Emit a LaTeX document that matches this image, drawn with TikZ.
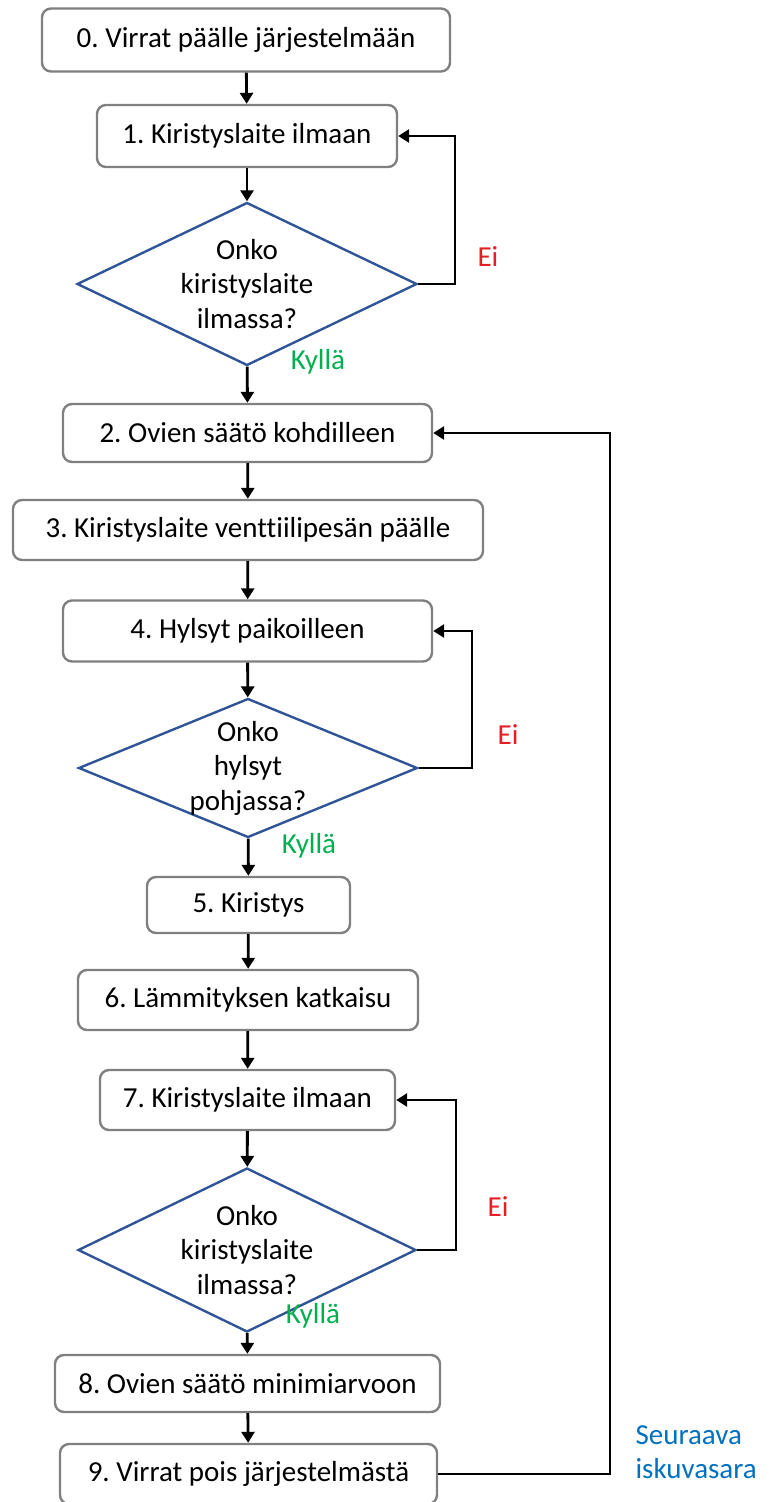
\documentclass[tikz,border=0pt]{standalone}
\usepackage{fontspec}
\setmainfont{Carlito}[Ligatures={NoCommon}]
\usetikzlibrary{shapes.geometric,arrows.meta}
\definecolor{boxgray}{RGB}{128,128,128}
\definecolor{decblue}{RGB}{47,85,151}
\definecolor{nored}{RGB}{228,30,36}
\definecolor{yesgreen}{RGB}{0,176,80}
\definecolor{nextblue}{RGB}{0,112,192}
\frenchspacing
\begin{document}
\begin{tikzpicture}[x=1pt,y=-1pt,
  every node/.style={font=\fontsize{29}{34.5}\selectfont},
  stepbox/.style={draw=boxgray,line width=2.4pt,rounded corners=9pt,fill=white,
    inner sep=0pt},
  decision/.style={draw=decblue,line width=2.4pt,diamond,inner sep=0pt},
  question/.style={label={[align=center]center:#1}},
  flow/.style={line width=2.8pt,-{Triangle[length=11pt,width=13pt]}},
  nolabel/.style={text=nored},
  yeslabel/.style={text=yesgreen}]
\useasboundingbox (0,0) rectangle (771,1502);

% process steps
\node[stepbox,minimum width=408pt,minimum height=63pt] (s0) at (246,40) {0. Virrat päälle järjestelmään};
\node[stepbox,minimum width=300pt,minimum height=62pt] (s1) at (247,136) {1. Kiristyslaite ilmaan};
\node[decision,minimum width=340pt,minimum height=163pt,
  question={Onko\\kiristyslaite\\ilmassa?}] (d1) at (247,284) {};
\node[stepbox,minimum width=369pt,minimum height=58pt] (s2) at (247.5,433) {2. Ovien säätö kohdilleen};
\node[stepbox,minimum width=470pt,minimum height=60pt] (s3) at (248,530) {3. Kiristyslaite venttiilipesän päälle};
\node[stepbox,minimum width=369pt,minimum height=61pt] (s4) at (247.5,631) {4. Hylsyt paikoilleen};
\node[decision,minimum width=339pt,minimum height=139pt,
  question={Onko\\hylsyt\\pohjassa?}] (d2) at (248,768) {};
\node[stepbox,minimum width=203pt,minimum height=56pt] (s5) at (248.5,905) {5. Kiristys};
\node[stepbox,minimum width=340pt,minimum height=60pt] (s6) at (248,1000) {6. Lämmityksen katkaisu};
\node[stepbox,minimum width=295pt,minimum height=60pt] (s7) at (247.5,1100) {7. Kiristyslaite ilmaan};
\node[decision,minimum width=338pt,minimum height=164pt,
  question={Onko\\kiristyslaite\\ilmassa?}] (d3) at (247,1250) {};
\node[stepbox,minimum width=385pt,minimum height=57pt] (s8) at (247.5,1383.5) {8. Ovien säätö minimiarvoon};
\node[stepbox,minimum width=377pt,minimum height=60pt] (s9) at (248.5,1474) {9. Virrat pois järjestelmästä};

% straight-down connectors
\draw[flow] (s0) -- (s1);
\draw[flow] (s1) -- (d1);
\draw[flow] (d1) -- (s2);
\draw[flow] (s2) -- (s3);
\draw[flow] (s3) -- (s4);
\draw[flow] (s4) -- (d2);
\draw[flow] (d2) -- (s5);
\draw[flow] (s5) -- (s6);
\draw[flow] (s6) -- (s7);
\draw[flow] (s7) -- (d3);
\draw[flow] (d3) -- (s8);
\draw[flow] (s8) -- (s9);

% "no" loops back to the previous step
\draw[flow] (d1.east) -| (455,136) -- (s1.east);
\draw[flow] (d2.east) -| (472,631) -- (s4.east);
\draw[flow] (d3.east) -| (456,1100) -- (s7.east);
% next hammer: back to step 2
\draw[flow] (s9.east) -| (610,433) -- (s2.east);

% branch labels
\node[nolabel] (n1) at (488,257) {Ei};
\node[nolabel] (n2) at (508,735) {Ei};
\node[nolabel] (n3) at (498,1207) {Ei};
\node[yeslabel] (y1) at (318,362) {Kyllä};
\node[yeslabel] (y2) at (309,846) {Kyllä};
\node[yeslabel] (y3) at (313,1316) {Kyllä};
\node[text=nextblue,align=left,anchor=west] (next) at (632,1452) {Seuraava\\iskuvasara};
\end{tikzpicture}
\end{document}
